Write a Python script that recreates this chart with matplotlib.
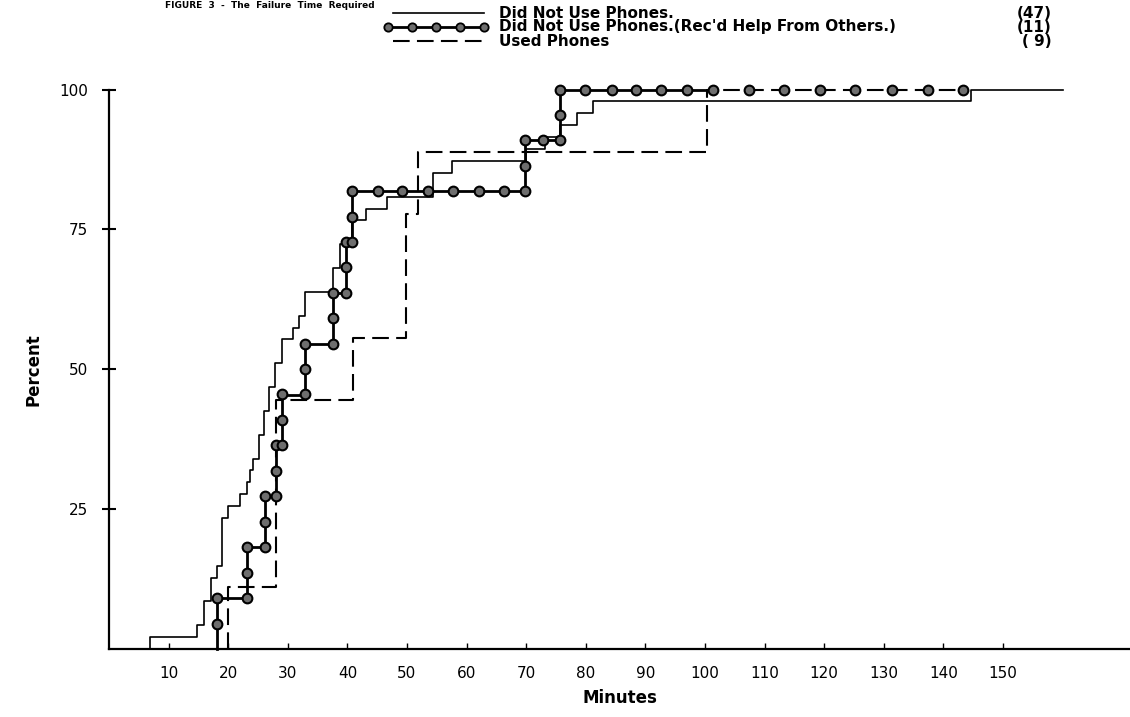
import matplotlib
matplotlib.use("Agg")
import matplotlib.pyplot as plt
from matplotlib.lines import Line2D

# Did Not Use Phones (47) - step times (minutes) and cumulative counts
alone_n = 47
alone_min = [6.9, 6.9, 14.8, 16.0, 17.1, 18.1, 19.0, 20.0, 22.0, 23.1, 23.7, 24.2,
             25.2, 26.0, 26.9, 27.9, 29.0, 30.8, 31.9, 32.9, 37.6, 38.8, 40.7,
             43.2, 46.6, 54.4, 57.5, 69.9, 73.2, 75.7, 78.5, 81.2, 144.7, 160.0]
alone_cnt = [0, 1, 2, 4, 6, 7, 11, 12, 13, 14, 15, 16, 18, 20, 22, 24, 26, 27, 28,
             30, 32, 34, 36, 37, 38, 40, 41, 42, 43, 44, 45, 46, 47, 47]

# Did Not Use Phones, received help from others (11)
helped_n = 11
helped_min = [18.2, 18.2, 23.1, 26.1, 28.0, 29.1, 32.9, 37.6, 39.7, 40.7, 69.8,
              75.7, 101.3]
helped_cnt = [0, 1, 2, 3, 4, 5, 6, 7, 8, 9, 10, 11, 11]
helped_mark_min = [18.2, 18.2, 23.1, 23.1, 23.1, 26.1, 26.1, 26.1, 28.0, 28.0, 28.0,
                   29.1, 29.1, 29.1, 32.9, 32.9, 32.9, 37.6, 37.6, 37.6, 39.7, 39.7,
                   39.7, 40.7, 40.7, 40.7, 45.1, 49.2, 53.6, 57.7, 62.0, 66.2, 69.8,
                   69.8, 69.8, 72.9, 75.7, 75.7, 75.7, 79.9, 84.4, 88.5, 92.6, 97.0,
                   101.3, 107.3, 113.3, 119.3, 125.2, 131.3, 137.4, 143.3]
helped_mark_pct = [4.5, 9.1, 9.1, 13.6, 18.2, 18.2, 22.7, 27.3, 27.3, 31.8, 36.4,
                   36.4, 40.9, 45.5, 45.5, 50.0, 54.5, 54.5, 59.1, 63.6, 63.6, 68.2,
                   72.7, 72.7, 77.3, 81.8, 81.8, 81.8, 81.8, 81.8, 81.8, 81.8, 81.8,
                   86.4, 90.9, 90.9, 90.9, 95.5, 100, 100, 100, 100, 100, 100,
                   100, 100, 100, 100, 100, 100, 100, 100]

# Used Phones (9)
phones_n = 9
phones_min = [20.0, 20.0, 28.1, 41.0, 49.9, 51.9, 100.3, 144.0]
phones_cnt = [0, 1, 4, 5, 7, 8, 9, 9]

x_ticks = list(range(10, 151, 10))
y_ticks = [25, 50, 75, 100]

W, H = 1130, 717
fig = plt.figure(figsize=(W / 100, H / 100), dpi=100)
ax = fig.add_axes([109 / W, 68 / H, (W - 109) / W, 559.5 / H])


def pct(cnt, n):
    return [c * 100.0 / n for c in cnt]


ax.step(alone_min, pct(alone_cnt, alone_n), where="post", color="black",
        lw=1.2, clip_on=False, zorder=3)
ax.step(phones_min, pct(phones_cnt, phones_n), where="post", color="black",
        lw=1.5, linestyle=(0, (8, 3.5)), clip_on=False, zorder=3)
ax.step(helped_min, pct(helped_cnt, helped_n), where="post", color="black",
        lw=2.0, clip_on=False, zorder=4)
ax.plot(helped_mark_min, helped_mark_pct, linestyle="none", marker="o",
        markersize=7, markerfacecolor="#6e6e6e", markeredgecolor="black",
        markeredgewidth=1.5, clip_on=False, zorder=5)

ax.set_xlim(0, (W - 109) / 5.96)
ax.set_ylim(0, 100)
for side in ("top", "right"):
    ax.spines[side].set_visible(False)
for side in ("left", "bottom"):
    ax.spines[side].set_linewidth(1.6)

ax.set_xticks(x_ticks)
ax.set_xticklabels([str(v) for v in x_ticks])
ax.set_yticks(y_ticks)
ax.set_yticklabels([str(v) for v in y_ticks])
ax.tick_params(axis="x", direction="in", length=4, width=1, labelsize=11, pad=12)
ax.tick_params(axis="y", direction="inout", length=10, width=1.5, labelsize=11, pad=10)

ax.set_xlabel("Minutes", fontsize=12, fontweight="bold", labelpad=6)
ax.set_ylabel("Percent", fontsize=12, fontweight="bold", labelpad=12)

# title (mostly lost off the top edge of the scan), kept small so it stays on the page
fig.text(165 / W, 1 - 1 / H, "FIGURE  3  -  The  Failure  Time  Required",
         fontsize=6.5, fontweight="bold", va="top", ha="left")

# hand-drawn legend
rows = [13, 27, 41]
labels = ["Did Not Use Phones.", "Did Not Use Phones.(Rec'd Help From Others.)",
          "Used Phones"]
counts = ["(47)", "(11)", "( 9)"]
fy = [1 - r / H for r in rows]
fig.add_artist(Line2D([393 / W, 484 / W], [fy[0], fy[0]], color="black", lw=1.2))
fig.add_artist(Line2D([388 / W, 484 / W], [fy[1], fy[1]], color="black", lw=2.0))
for k in range(5):
    xm = (388 + k * 24) / W
    fig.add_artist(Line2D([xm], [fy[1]], color="black", marker="o", markersize=6,
                          markerfacecolor="#6e6e6e", markeredgecolor="black",
                          markeredgewidth=1.3, linestyle="none"))
fig.add_artist(Line2D([393 / W, 484 / W], [fy[2], fy[2]], color="black", lw=1.5,
                      linestyle=(0, (8, 3.5))))
for y, lab, cnt in zip(fy, labels, counts):
    fig.text(499 / W, y, lab, fontsize=11, fontweight="bold", va="center", ha="left")
    fig.text(1052 / W, y, cnt, fontsize=11, fontweight="bold", va="center", ha="right")

fig.savefig("out.png", dpi=100)
